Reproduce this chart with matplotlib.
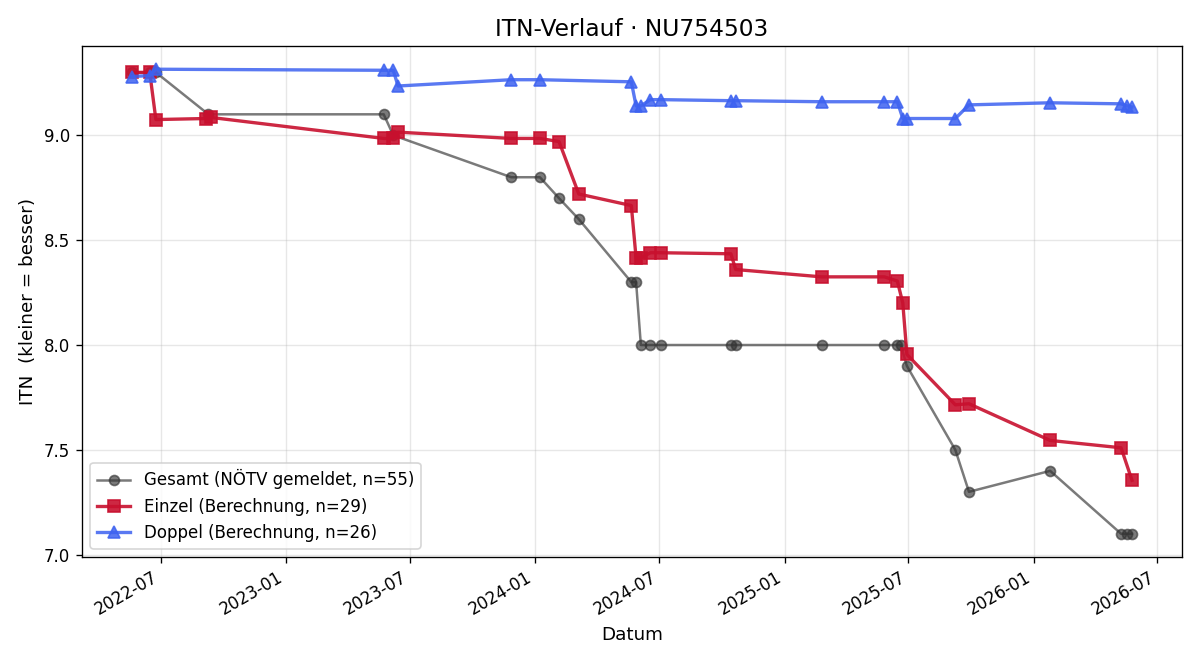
import matplotlib
matplotlib.use("Agg")
import matplotlib.pyplot as plt
import matplotlib.dates as mdates
import pandas as pd

gesamt_dates = ["2022-05-20", "2022-06-15", "2022-06-24", "2022-09-09", "2023-05-24", "2023-06-07",
                "2023-11-27", "2024-01-08", "2024-02-05", "2024-03-05", "2024-05-21", "2024-05-28",
                "2024-06-04", "2024-06-18", "2024-07-03", "2024-10-14", "2024-10-21", "2025-02-24",
                "2025-05-27", "2025-06-15", "2025-06-20", "2025-06-29", "2025-09-08", "2025-09-28",
                "2026-01-25", "2026-05-09", "2026-05-18", "2026-05-25"]
gesamt_vals = [9.30, 9.30, 9.30, 9.10, 9.10, 9.00,
               8.80, 8.80, 8.70, 8.60, 8.30, 8.30,
               8.00, 8.00, 8.00, 8.00, 8.00, 8.00,
               8.00, 8.00, 8.00, 7.90, 7.50, 7.30,
               7.40, 7.10, 7.10, 7.10]

einzel_dates = ["2022-05-20", "2022-06-15", "2022-06-24", "2022-09-06", "2022-09-13", "2023-05-24",
                "2023-06-06", "2023-06-14", "2023-11-27", "2024-01-08", "2024-02-05", "2024-03-05",
                "2024-05-21", "2024-05-28", "2024-06-04", "2024-06-18", "2024-07-03", "2024-10-14",
                "2024-10-21", "2025-02-24", "2025-05-27", "2025-06-15", "2025-06-23", "2025-06-29",
                "2025-09-08", "2025-09-28", "2026-01-25", "2026-05-09", "2026-05-25"]
einzel_vals = [9.30, 9.30, 9.075, 9.08, 9.085, 8.985,
               8.985, 9.015, 8.985, 8.985, 8.97, 8.72,
               8.665, 8.415, 8.415, 8.44, 8.44, 8.435,
               8.36, 8.325, 8.325, 8.305, 8.20, 7.955,
               7.715, 7.72, 7.545, 7.51, 7.355]

doppel_dates = ["2022-05-20", "2022-06-15", "2022-06-24", "2023-05-24", "2023-06-07", "2023-06-14",
                "2023-11-27", "2024-01-08", "2024-05-21", "2024-05-28", "2024-06-04", "2024-06-18",
                "2024-07-03", "2024-10-14", "2024-10-21", "2025-02-24", "2025-05-27", "2025-06-15",
                "2025-06-23", "2025-06-29", "2025-09-08", "2025-09-28", "2026-01-25", "2026-05-09",
                "2026-05-18", "2026-05-25"]
doppel_vals = [9.28, 9.285, 9.315, 9.31, 9.31, 9.235,
               9.265, 9.265, 9.255, 9.14, 9.14, 9.17,
               9.17, 9.165, 9.165, 9.16, 9.16, 9.16,
               9.08, 9.08, 9.08, 9.145, 9.155, 9.15,
               9.14, 9.135]

labels = ["Gesamt (NÖTV gemeldet, n=55)", "Einzel (Berechnung, n=29)", "Doppel (Berechnung, n=26)"]

fig, ax = plt.subplots(figsize=(10, 5.5), dpi=120)
ax.plot(pd.to_datetime(gesamt_dates), gesamt_vals, marker="o", color="#333333", alpha=0.65,
        lw=1.5, ms=6, label=labels[0])
ax.plot(pd.to_datetime(einzel_dates), einzel_vals, marker="s", color="#c8102e", alpha=0.9,
        lw=2, ms=7, label=labels[1])
ax.plot(pd.to_datetime(doppel_dates), doppel_vals, marker="^", color="#3d62f0", alpha=0.85,
        lw=2, ms=7, label=labels[2])

ax.set_title("ITN-Verlauf · NU754503", fontsize=14)
ax.set_xlabel("Datum", fontsize=11)
ax.set_ylabel("ITN  (kleiner = besser)", fontsize=11)
ax.grid(True, alpha=0.3)
ax.xaxis.set_major_formatter(mdates.DateFormatter("%Y-%m"))
ax.legend(loc="lower left", fontsize=10)
fig.autofmt_xdate()
fig.subplots_adjust(left=82/1200, right=1182/1200, top=1-46/660, bottom=1-557/660)
fig.savefig("out.png", dpi=120)
